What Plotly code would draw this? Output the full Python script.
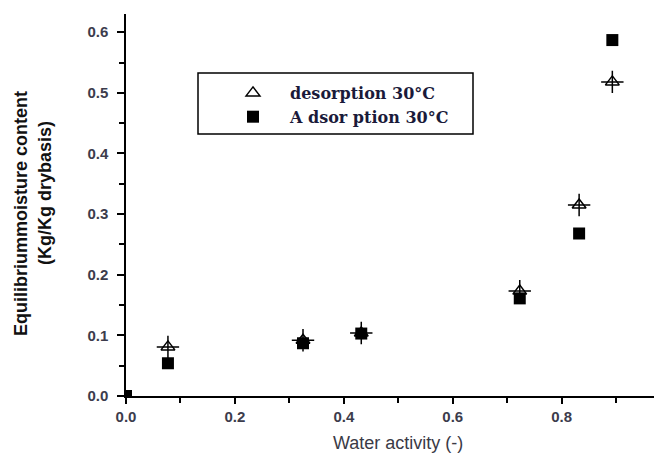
import plotly.graph_objects as go

# Data
aw_des = [0.077, 0.325, 0.432, 0.723, 0.832, 0.893]
mc_des = [0.081, 0.092, 0.104, 0.173, 0.315, 0.518]
aw_ads = [0.0, 0.077, 0.325, 0.432, 0.723, 0.832, 0.893]
mc_ads = [0.0, 0.054, 0.087, 0.103, 0.161, 0.268, 0.587]

name_des = "desorption 30°C"
name_ads = "A dsor ption 30°C"
x_title = "Water activity (-)"
y_title_1 = "Equilibriummoisture content"
y_title_2 = "(Kg/Kg drybasis)"
x_ticks = [0.0, 0.2, 0.4, 0.6, 0.8]
y_ticks = [0.0, 0.1, 0.2, 0.3, 0.4, 0.5, 0.6]

fig = go.Figure()
fig.add_trace(go.Scatter(
    x=aw_des, y=mc_des, mode="markers", name=name_des, legendrank=1,
    marker=dict(symbol="triangle-up-open", size=12, color="black",
                line=dict(color="black", width=1.5)),
))
fig.add_trace(go.Scatter(
    x=aw_des, y=mc_des, mode="markers", showlegend=False, hoverinfo="skip",
    marker=dict(symbol="cross-thin-open", size=16, color="black",
                line=dict(color="black", width=1.5)),
))
fig.add_trace(go.Scatter(
    x=aw_ads, y=mc_ads, mode="markers", name=name_ads, legendrank=2,
    marker=dict(symbol="square", size=12, color="black",
                line=dict(color="black", width=0)),
))

# page body adds an 8px offset; work in screen pixels and convert
OFF = 8
W, H = 662, 455
L = 126 - OFF
T = 14 - OFF
B = H - (396 - OFF)
R = W - (657 - OFF)
pw = W - L - R
ph = H - T - B

def px_x(p):
    return (p - OFF - L) / pw

def px_y(p):
    return (H - B - (p - OFF)) / ph

tickfont = dict(family="Liberation Sans, Arial, sans-serif", size=15,
                color="#3c3c4c", weight="bold")

fig.update_layout(
    width=W, height=H,
    margin=dict(l=L, r=R, t=T, b=B),
    paper_bgcolor="white", plot_bgcolor="white",
    showlegend=True,
    legend=dict(
        x=px_x(216), y=px_y(76), xanchor="left", yanchor="top",
        bgcolor="rgba(0,0,0,0)", borderwidth=0,
        itemwidth=64, tracegroupgap=2,
        font=dict(family="DejaVu Serif, serif", size=16, color="#1a1a3a",
                  weight="bold"),
    ),
    xaxis=dict(
        range=[0, 0.975], tickvals=x_ticks, ticktext=[f"{v:.1f}" for v in x_ticks],
        showgrid=False, zeroline=False, showline=True, linecolor="black",
        linewidth=1.5, ticks="outside", ticklen=6, tickwidth=1.5,
        tickcolor="black", tickfont=tickfont,
        minor=dict(dtick=0.1, tick0=0, ticks="outside", ticklen=5,
                   tickwidth=1.5, tickcolor="black", showgrid=False),
    ),
    yaxis=dict(
        range=[0, 0.63], tickvals=y_ticks, ticktext=[f"{v:.1f}" for v in y_ticks],
        showgrid=False, zeroline=False, showline=True, linecolor="black",
        linewidth=1.5, ticks="outside", ticklen=7, tickwidth=1.5,
        tickcolor="black", tickfont=tickfont, ticklabelstandoff=6,
        minor=dict(dtick=0.05, tick0=0, ticks="outside", ticklen=5,
                   tickwidth=1.5, tickcolor="black", showgrid=False),
    ),
    shapes=[dict(
        type="rect", xref="paper", yref="paper",
        x0=px_x(198), x1=px_x(473), y0=px_y(134), y1=px_y(73),
        line=dict(color="black", width=1.5), fillcolor="rgba(0,0,0,0)",
        layer="above",
    )],
    annotations=[
        dict(text=x_title, xref="paper", yref="paper",
             x=px_x(398), y=px_y(443), xanchor="center", yanchor="middle",
             showarrow=False,
             font=dict(family="Liberation Sans, Arial, sans-serif", size=18,
                       color="#3a3a46")),
        dict(text=y_title_1, xref="paper", yref="paper",
             x=px_x(21), y=px_y(214), xanchor="center", yanchor="middle",
             textangle=-90, showarrow=False,
             font=dict(family="Liberation Sans, Arial, sans-serif", size=18,
                       color="#111111", weight="bold")),
        dict(text=y_title_2, xref="paper", yref="paper",
             x=px_x(45), y=px_y(193), xanchor="center", yanchor="middle",
             textangle=-90, showarrow=False,
             font=dict(family="Liberation Sans, Arial, sans-serif", size=18,
                       color="#111111", weight="bold")),
    ],
)

fig.write_html("out.html")
